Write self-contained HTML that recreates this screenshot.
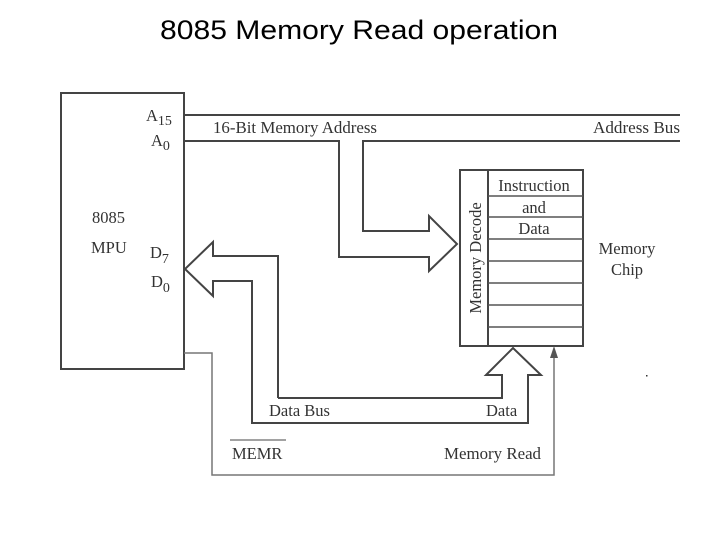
<!DOCTYPE html>
<html><head><style>
html,body{margin:0;padding:0;background:#fff;}
svg{display:block;}
.s{font-family:"Liberation Serif",serif;fill:#333;}
</style></head><body>
<svg width="720" height="540" viewBox="0 0 720 540" xmlns="http://www.w3.org/2000/svg">
<text x="359" y="39" text-anchor="middle" font-family="Liberation Sans,sans-serif" font-size="27" fill="#000" textLength="398" lengthAdjust="spacingAndGlyphs">8085 Memory Read operation</text>
<g fill="none" stroke="#444" stroke-width="2">
<rect x="61" y="93" width="123" height="276"/>
<line x1="184" y1="115" x2="680" y2="115"/>
<polyline points="184,141 339,141 339,257 429,257 429,271 457,244 429,216 429,231 363,231 363,141 680,141"/>
<polyline points="278,398 278,256 213,256 213,242 185,269 213,296 213,281 252,281 252,423 528,423 528,375 541,375 513,348 486,375 502,375 502,398 278,398"/>
<rect x="460" y="170" width="123" height="176"/>
<line x1="488" y1="170" x2="488" y2="346"/>
</g>
<g stroke="#555" stroke-width="1.5">
<line x1="488" y1="196" x2="583" y2="196"/>
<line x1="488" y1="217" x2="583" y2="217"/>
<line x1="488" y1="239" x2="583" y2="239"/>
<line x1="488" y1="261" x2="583" y2="261"/>
<line x1="488" y1="283" x2="583" y2="283"/>
<line x1="488" y1="305" x2="583" y2="305"/>
<line x1="488" y1="327" x2="583" y2="327"/>
</g>
<polyline points="184,353 212,353 212,475 554,475 554,356" fill="none" stroke="#777" stroke-width="1.5"/>
<polygon points="554,346 550,358 558,358" fill="#555"/>
<g class="s" font-size="16.5">
<text x="146" y="121">A<tspan font-size="14" dy="4">15</tspan></text>
<text x="151" y="146">A<tspan font-size="14" dy="4">0</tspan></text>
<text x="92" y="223">8085</text>
<text x="91" y="253">MPU</text>
<text x="150" y="258">D<tspan font-size="14" dy="5">7</tspan></text>
<text x="151" y="287">D<tspan font-size="14" dy="5">0</tspan></text>
<text x="213" y="133" textLength="164" lengthAdjust="spacingAndGlyphs">16-Bit Memory Address</text>
<text x="593" y="133" textLength="87" lengthAdjust="spacingAndGlyphs">Address Bus</text>
<text x="534" y="191" text-anchor="middle">Instruction</text>
<text x="534" y="213" text-anchor="middle">and</text>
<text x="534" y="234" text-anchor="middle">Data</text>
<text x="627" y="254" text-anchor="middle">Memory</text>
<text x="627" y="275" text-anchor="middle">Chip</text>
<text transform="translate(481,258) rotate(-90)" text-anchor="middle">Memory Decode</text>
<text x="269" y="416">Data Bus</text>
<text x="486" y="416">Data</text>
<text x="232" y="459">MEMR</text>
<text x="444" y="459" textLength="97" lengthAdjust="spacingAndGlyphs">Memory Read</text>
</g>
<line x1="230" y1="440" x2="286" y2="440" stroke="#444" stroke-width="1"/>
<rect x="646" y="375" width="1.5" height="1.5" fill="#333"/>
</svg>
</body></html>
